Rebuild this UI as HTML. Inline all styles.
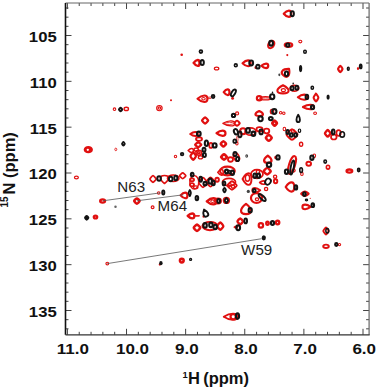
<!DOCTYPE html>
<html><head><meta charset="utf-8"><style>
html,body{margin:0;padding:0;background:#fff;}
body{width:378px;height:389px;overflow:hidden;}
svg{display:block;}
.tl{font-family:"Liberation Sans",sans-serif;font-weight:bold;font-size:13.8px;fill:#111;}
.ti{font-family:"Liberation Sans",sans-serif;font-weight:bold;font-size:16.5px;fill:#111;}
.an{font-family:"Liberation Sans",sans-serif;font-size:14.3px;fill:#222;}
</style></head><body>
<svg width="378" height="389" viewBox="0 0 378 389">
<rect x="0" y="0" width="378" height="389" fill="#fff"/>
<g stroke="#444" stroke-width="1">
<line x1="67.40" y1="334.8" x2="67.40" y2="328.8"/>
<line x1="67.40" y1="3" x2="67.40" y2="9"/>
<line x1="79.22" y1="334.8" x2="79.22" y2="331.8"/>
<line x1="79.22" y1="3" x2="79.22" y2="6"/>
<line x1="91.05" y1="334.8" x2="91.05" y2="331.8"/>
<line x1="91.05" y1="3" x2="91.05" y2="6"/>
<line x1="102.87" y1="334.8" x2="102.87" y2="331.8"/>
<line x1="102.87" y1="3" x2="102.87" y2="6"/>
<line x1="114.70" y1="334.8" x2="114.70" y2="331.8"/>
<line x1="114.70" y1="3" x2="114.70" y2="6"/>
<line x1="126.52" y1="334.8" x2="126.52" y2="328.8"/>
<line x1="126.52" y1="3" x2="126.52" y2="9"/>
<line x1="138.34" y1="334.8" x2="138.34" y2="331.8"/>
<line x1="138.34" y1="3" x2="138.34" y2="6"/>
<line x1="150.17" y1="334.8" x2="150.17" y2="331.8"/>
<line x1="150.17" y1="3" x2="150.17" y2="6"/>
<line x1="161.99" y1="334.8" x2="161.99" y2="331.8"/>
<line x1="161.99" y1="3" x2="161.99" y2="6"/>
<line x1="173.82" y1="334.8" x2="173.82" y2="331.8"/>
<line x1="173.82" y1="3" x2="173.82" y2="6"/>
<line x1="185.64" y1="334.8" x2="185.64" y2="328.8"/>
<line x1="185.64" y1="3" x2="185.64" y2="9"/>
<line x1="197.46" y1="334.8" x2="197.46" y2="331.8"/>
<line x1="197.46" y1="3" x2="197.46" y2="6"/>
<line x1="209.29" y1="334.8" x2="209.29" y2="331.8"/>
<line x1="209.29" y1="3" x2="209.29" y2="6"/>
<line x1="221.11" y1="334.8" x2="221.11" y2="331.8"/>
<line x1="221.11" y1="3" x2="221.11" y2="6"/>
<line x1="232.94" y1="334.8" x2="232.94" y2="331.8"/>
<line x1="232.94" y1="3" x2="232.94" y2="6"/>
<line x1="244.76" y1="334.8" x2="244.76" y2="328.8"/>
<line x1="244.76" y1="3" x2="244.76" y2="9"/>
<line x1="256.58" y1="334.8" x2="256.58" y2="331.8"/>
<line x1="256.58" y1="3" x2="256.58" y2="6"/>
<line x1="268.41" y1="334.8" x2="268.41" y2="331.8"/>
<line x1="268.41" y1="3" x2="268.41" y2="6"/>
<line x1="280.23" y1="334.8" x2="280.23" y2="331.8"/>
<line x1="280.23" y1="3" x2="280.23" y2="6"/>
<line x1="292.06" y1="334.8" x2="292.06" y2="331.8"/>
<line x1="292.06" y1="3" x2="292.06" y2="6"/>
<line x1="303.88" y1="334.8" x2="303.88" y2="328.8"/>
<line x1="303.88" y1="3" x2="303.88" y2="9"/>
<line x1="315.70" y1="334.8" x2="315.70" y2="331.8"/>
<line x1="315.70" y1="3" x2="315.70" y2="6"/>
<line x1="327.53" y1="334.8" x2="327.53" y2="331.8"/>
<line x1="327.53" y1="3" x2="327.53" y2="6"/>
<line x1="339.35" y1="334.8" x2="339.35" y2="331.8"/>
<line x1="339.35" y1="3" x2="339.35" y2="6"/>
<line x1="351.18" y1="334.8" x2="351.18" y2="331.8"/>
<line x1="351.18" y1="3" x2="351.18" y2="6"/>
<line x1="363.00" y1="334.8" x2="363.00" y2="328.8"/>
<line x1="363.00" y1="3" x2="363.00" y2="9"/>
<line x1="65.5" y1="8.00" x2="68.5" y2="8.00"/>
<line x1="369.1" y1="8.00" x2="366.1" y2="8.00"/>
<line x1="65.5" y1="17.17" x2="68.5" y2="17.17"/>
<line x1="369.1" y1="17.17" x2="366.1" y2="17.17"/>
<line x1="65.5" y1="26.33" x2="68.5" y2="26.33"/>
<line x1="369.1" y1="26.33" x2="366.1" y2="26.33"/>
<line x1="65.5" y1="35.50" x2="71.5" y2="35.50"/>
<line x1="369.1" y1="35.50" x2="363.1" y2="35.50"/>
<line x1="65.5" y1="44.67" x2="68.5" y2="44.67"/>
<line x1="369.1" y1="44.67" x2="366.1" y2="44.67"/>
<line x1="65.5" y1="53.83" x2="68.5" y2="53.83"/>
<line x1="369.1" y1="53.83" x2="366.1" y2="53.83"/>
<line x1="65.5" y1="63.00" x2="68.5" y2="63.00"/>
<line x1="369.1" y1="63.00" x2="366.1" y2="63.00"/>
<line x1="65.5" y1="72.17" x2="68.5" y2="72.17"/>
<line x1="369.1" y1="72.17" x2="366.1" y2="72.17"/>
<line x1="65.5" y1="81.34" x2="71.5" y2="81.34"/>
<line x1="369.1" y1="81.34" x2="363.1" y2="81.34"/>
<line x1="65.5" y1="90.50" x2="68.5" y2="90.50"/>
<line x1="369.1" y1="90.50" x2="366.1" y2="90.50"/>
<line x1="65.5" y1="99.67" x2="68.5" y2="99.67"/>
<line x1="369.1" y1="99.67" x2="366.1" y2="99.67"/>
<line x1="65.5" y1="108.84" x2="68.5" y2="108.84"/>
<line x1="369.1" y1="108.84" x2="366.1" y2="108.84"/>
<line x1="65.5" y1="118.00" x2="68.5" y2="118.00"/>
<line x1="369.1" y1="118.00" x2="366.1" y2="118.00"/>
<line x1="65.5" y1="127.17" x2="71.5" y2="127.17"/>
<line x1="369.1" y1="127.17" x2="363.1" y2="127.17"/>
<line x1="65.5" y1="136.34" x2="68.5" y2="136.34"/>
<line x1="369.1" y1="136.34" x2="366.1" y2="136.34"/>
<line x1="65.5" y1="145.50" x2="68.5" y2="145.50"/>
<line x1="369.1" y1="145.50" x2="366.1" y2="145.50"/>
<line x1="65.5" y1="154.67" x2="68.5" y2="154.67"/>
<line x1="369.1" y1="154.67" x2="366.1" y2="154.67"/>
<line x1="65.5" y1="163.84" x2="68.5" y2="163.84"/>
<line x1="369.1" y1="163.84" x2="366.1" y2="163.84"/>
<line x1="65.5" y1="173.00" x2="71.5" y2="173.00"/>
<line x1="369.1" y1="173.00" x2="363.1" y2="173.00"/>
<line x1="65.5" y1="182.17" x2="68.5" y2="182.17"/>
<line x1="369.1" y1="182.17" x2="366.1" y2="182.17"/>
<line x1="65.5" y1="191.34" x2="68.5" y2="191.34"/>
<line x1="369.1" y1="191.34" x2="366.1" y2="191.34"/>
<line x1="65.5" y1="200.51" x2="68.5" y2="200.51"/>
<line x1="369.1" y1="200.51" x2="366.1" y2="200.51"/>
<line x1="65.5" y1="209.67" x2="68.5" y2="209.67"/>
<line x1="369.1" y1="209.67" x2="366.1" y2="209.67"/>
<line x1="65.5" y1="218.84" x2="71.5" y2="218.84"/>
<line x1="369.1" y1="218.84" x2="363.1" y2="218.84"/>
<line x1="65.5" y1="228.01" x2="68.5" y2="228.01"/>
<line x1="369.1" y1="228.01" x2="366.1" y2="228.01"/>
<line x1="65.5" y1="237.17" x2="68.5" y2="237.17"/>
<line x1="369.1" y1="237.17" x2="366.1" y2="237.17"/>
<line x1="65.5" y1="246.34" x2="68.5" y2="246.34"/>
<line x1="369.1" y1="246.34" x2="366.1" y2="246.34"/>
<line x1="65.5" y1="255.51" x2="68.5" y2="255.51"/>
<line x1="369.1" y1="255.51" x2="366.1" y2="255.51"/>
<line x1="65.5" y1="264.67" x2="71.5" y2="264.67"/>
<line x1="369.1" y1="264.67" x2="363.1" y2="264.67"/>
<line x1="65.5" y1="273.84" x2="68.5" y2="273.84"/>
<line x1="369.1" y1="273.84" x2="366.1" y2="273.84"/>
<line x1="65.5" y1="283.01" x2="68.5" y2="283.01"/>
<line x1="369.1" y1="283.01" x2="366.1" y2="283.01"/>
<line x1="65.5" y1="292.18" x2="68.5" y2="292.18"/>
<line x1="369.1" y1="292.18" x2="366.1" y2="292.18"/>
<line x1="65.5" y1="301.34" x2="68.5" y2="301.34"/>
<line x1="369.1" y1="301.34" x2="366.1" y2="301.34"/>
<line x1="65.5" y1="310.51" x2="71.5" y2="310.51"/>
<line x1="369.1" y1="310.51" x2="363.1" y2="310.51"/>
<line x1="65.5" y1="319.68" x2="68.5" y2="319.68"/>
<line x1="369.1" y1="319.68" x2="366.1" y2="319.68"/>
<line x1="65.5" y1="328.84" x2="68.5" y2="328.84"/>
<line x1="369.1" y1="328.84" x2="366.1" y2="328.84"/>
</g>
<g>
<path d="M283.76,13.70 C286.19,10.78 287.69,10.53 288.81,10.53 C290.68,10.53 291.24,11.96 291.24,13.70 C291.24,15.44 290.68,16.87 288.81,16.87 C287.69,16.87 286.19,16.62 283.76,13.70 Z" fill="none" stroke="#e01010" stroke-width="2.21" stroke-linejoin="round"/>
<ellipse cx="271.2" cy="44.4" rx="2.72" ry="3.98" fill="none" stroke="#e01010" stroke-width="2.08" transform="rotate(32 271.2 44.4)"/>
<ellipse cx="288.5" cy="44.9" rx="3.74" ry="1.92" fill="none" stroke="#e01010" stroke-width="2.21"/>
<ellipse cx="300.3" cy="41.6" rx="1.56" ry="1.28" fill="none" stroke="#e01010" stroke-width="1.0943999999999998"/>
<ellipse cx="287.3" cy="55.1" rx="1.05" ry="1.05" fill="#e01010"/>
<ellipse cx="181.7" cy="54.8" rx="1.30" ry="1.30" fill="#e01010"/>
<path d="M193.62,62.90 C195.56,60.16 196.75,59.92 197.64,59.92 C199.14,59.92 199.58,61.26 199.58,62.90 C199.58,64.54 199.14,65.88 197.64,65.88 C196.75,65.88 195.56,65.64 193.62,62.90 Z" fill="none" stroke="#e01010" stroke-width="2.4699999999999998" stroke-linejoin="round"/>
<ellipse cx="216.6" cy="68.5" rx="2.22" ry="1.48" fill="none" stroke="#e01010" stroke-width="1.2653999999999999"/>
<path d="M242.51,63.30 C245.17,60.59 246.80,60.35 248.03,60.35 C250.08,60.35 250.69,61.68 250.69,63.30 C250.69,64.92 250.08,66.25 248.03,66.25 C246.80,66.25 245.17,66.01 242.51,63.30 Z" fill="none" stroke="#e01010" stroke-width="2.08" stroke-linejoin="round"/>
<ellipse cx="255.5" cy="67.5" rx="1.00" ry="1.50" fill="#e01010"/>
<path d="M261.35,65.80 C263.59,63.72 264.97,63.54 266.01,63.54 C267.74,63.54 268.25,64.56 268.25,65.80 C268.25,67.04 267.74,68.06 266.01,68.06 C264.97,68.06 263.59,67.88 261.35,65.80 Z" fill="none" stroke="#e01010" stroke-width="2.21" stroke-linejoin="round"/>
<path d="M286.30,67.88 C282.75,70.69 282.44,72.42 282.44,73.71 C282.44,75.87 284.18,76.52 286.30,76.52 C288.42,76.52 290.16,75.87 290.16,73.71 C290.16,72.42 289.85,70.69 286.30,67.88 Z" fill="none" stroke="#e01010" stroke-width="2.08" stroke-linejoin="round" transform="rotate(40 286.3 72.2)"/>
<path d="M338.10,69.00 C338.10,68.38 339.86,65.89 340.30,65.89 C340.74,65.89 342.50,68.38 342.50,69.00 C342.50,69.62 340.74,72.11 340.30,72.11 C339.86,72.11 338.10,69.62 338.10,69.00Z" fill="none" stroke="#e01010" stroke-width="2.21"/>
<ellipse cx="358" cy="68.5" rx="1.05" ry="1.60" fill="#e01010"/>
<path d="M223.72,92.20 C225.59,89.60 226.74,89.37 227.61,89.37 C229.05,89.37 229.48,90.64 229.48,92.20 C229.48,93.76 229.05,95.03 227.61,95.03 C226.74,95.03 225.59,94.80 223.72,92.20 Z" fill="none" stroke="#e01010" stroke-width="2.21" stroke-linejoin="round"/>
<ellipse cx="232.6" cy="98.3" rx="1.40" ry="1.50" fill="#e01010"/>
<path d="M283.00,85.21 C277.82,87.87 277.37,89.50 277.37,90.73 C277.37,92.78 279.90,93.39 283.00,93.39 C286.10,93.39 288.63,92.78 288.63,90.73 C288.63,89.50 288.18,87.87 283.00,85.21 Z" fill="none" stroke="#e01010" stroke-width="2.08" stroke-linejoin="round"/>
<ellipse cx="283.4" cy="90.2" rx="2.05" ry="1.48" fill="none" stroke="#e01010" stroke-width="1.2653999999999999"/>
<ellipse cx="294.4" cy="88.3" rx="4.29" ry="2.86" fill="none" stroke="#e01010" stroke-width="1.6900000000000002"/>
<path d="M197.50,98.80 C200.75,95.82 202.75,95.56 204.25,95.56 C206.75,95.56 207.50,97.02 207.50,98.80 C207.50,100.58 206.75,102.03 204.25,102.03 C202.75,102.03 200.75,101.78 197.50,98.80 Z" fill="none" stroke="#e01010" stroke-width="2.08" stroke-linejoin="round"/>
<ellipse cx="203.5" cy="98.8" rx="1.77" ry="1.20" fill="none" stroke="#e01010" stroke-width="1.026"/>
<line x1="206.7" y1="97.4" x2="211.2" y2="97.0" stroke="#e01010" stroke-width="0.8"/>
<line x1="206.7" y1="98.8" x2="211.2" y2="98.4" stroke="#e01010" stroke-width="0.8"/>
<ellipse cx="259.2" cy="98.2" rx="2.31" ry="2.20" fill="none" stroke="#e01010" stroke-width="2.21"/>
<ellipse cx="265.5" cy="98.2" rx="5.62" ry="1.63" fill="none" stroke="#e01010" stroke-width="1.3"/>
<ellipse cx="265.5" cy="98.2" rx="4.82" ry="0.72" fill="none" stroke="#e01010" stroke-width="0.6156"/>
<path d="M297.84,97.20 C300.87,94.85 302.73,94.65 304.13,94.65 C306.46,94.65 307.16,95.80 307.16,97.20 C307.16,98.60 306.46,99.75 304.13,99.75 C302.73,99.75 300.87,99.55 297.84,97.20 Z" fill="none" stroke="#e01010" stroke-width="2.08" stroke-linejoin="round"/>
<path d="M313.62,97.70 C313.62,96.94 315.52,93.90 316.00,93.90 C316.48,93.90 318.38,96.94 318.38,97.70 C318.38,98.46 316.48,101.50 316.00,101.50 C315.52,101.50 313.62,98.46 313.62,97.70Z" fill="none" stroke="#e01010" stroke-width="2.08"/>
<ellipse cx="315.8" cy="93.2" rx="0.70" ry="0.70" fill="#e01010"/>
<ellipse cx="114.5" cy="109.2" rx="1.28" ry="1.28" fill="none" stroke="#e01010" stroke-width="1.0943999999999998"/>
<ellipse cx="126.3" cy="108.9" rx="2.17" ry="1.60" fill="none" stroke="#e01010" stroke-width="1.3679999999999999"/>
<ellipse cx="159.4" cy="108.1" rx="2.72" ry="2.61" fill="none" stroke="#e01010" stroke-width="1.1700000000000002"/>
<ellipse cx="159.4" cy="108.1" rx="1.23" ry="1.17" fill="none" stroke="#e01010" stroke-width="1.1700000000000002"/>
<ellipse cx="171" cy="100.2" rx="1.00" ry="1.00" fill="#e01010"/>
<path d="M302.93,107.00 C306.55,104.86 308.78,104.68 310.45,104.68 C313.24,104.68 314.07,105.72 314.07,107.00 C314.07,108.28 313.24,109.32 310.45,109.32 C308.78,109.32 306.55,109.14 302.93,107.00 Z" fill="none" stroke="#e01010" stroke-width="2.08" stroke-linejoin="round"/>
<ellipse cx="315.1" cy="113.3" rx="1.42" ry="1.30" fill="none" stroke="#e01010" stroke-width="1.04"/>
<ellipse cx="237.1" cy="113.4" rx="1.48" ry="1.48" fill="none" stroke="#e01010" stroke-width="1.2653999999999999"/>
<path d="M202.05,120.50 C202.05,119.89 204.49,117.45 205.10,117.45 C205.71,117.45 208.15,119.89 208.15,120.50 C208.15,121.11 205.71,123.55 205.10,123.55 C204.49,123.55 202.05,121.11 202.05,120.50Z" fill="none" stroke="#e01010" stroke-width="2.3400000000000003"/>
<path d="M259.20,111.01 C255.76,112.63 255.46,113.62 255.46,114.37 C255.46,115.61 257.14,115.99 259.20,115.99 C261.26,115.99 262.94,115.61 262.94,114.37 C262.94,113.62 262.64,112.63 259.20,111.01 Z" fill="none" stroke="#e01010" stroke-width="2.21" stroke-linejoin="round"/>
<ellipse cx="272" cy="111.5" rx="1.60" ry="2.17" fill="none" stroke="#e01010" stroke-width="1.3679999999999999"/>
<ellipse cx="280.7" cy="112.8" rx="1.25" ry="1.25" fill="none" stroke="#e01010" stroke-width="1.04"/>
<ellipse cx="283.8" cy="113.3" rx="1.25" ry="1.25" fill="none" stroke="#e01010" stroke-width="1.04"/>
<ellipse cx="298.5" cy="115.6" rx="0.75" ry="0.75" fill="#e01010"/>
<path d="M272.32,123.20 C272.32,122.70 274.14,120.69 274.60,120.69 C275.06,120.69 276.88,122.70 276.88,123.20 C276.88,123.70 275.06,125.71 274.60,125.71 C274.14,125.71 272.32,123.70 272.32,123.20Z" fill="none" stroke="#e01010" stroke-width="2.7300000000000004"/>
<path d="M222.90,123.40 C226.73,121.06 229.10,120.86 230.87,120.86 C233.82,120.86 234.71,122.00 234.71,123.40 C234.71,124.80 233.82,125.94 230.87,125.94 C229.10,125.94 226.73,125.74 222.90,123.40 Z" fill="none" stroke="#e01010" stroke-width="1.3" stroke-linejoin="round"/>
<ellipse cx="229.5" cy="123.4" rx="3.88" ry="1.09" fill="none" stroke="#e01010" stroke-width="0.78"/>
<path d="M234.21,123.20 C234.21,122.69 236.44,120.64 237.00,120.64 C237.56,120.64 239.79,122.69 239.79,123.20 C239.79,123.71 237.56,125.76 237.00,125.76 C236.44,125.76 234.21,123.71 234.21,123.20Z" fill="none" stroke="#e01010" stroke-width="1.9500000000000002"/>
<path d="M216.52,133.20 C219.43,130.76 221.22,130.54 222.57,130.54 C224.81,130.54 225.48,131.74 225.48,133.20 C225.48,134.66 224.81,135.86 222.57,135.86 C221.22,135.86 219.43,135.64 216.52,133.20 Z" fill="none" stroke="#e01010" stroke-width="2.21" stroke-linejoin="round"/>
<path d="M190.25,134.00 C192.69,132.18 194.19,132.02 195.31,132.02 C197.19,132.02 197.75,132.91 197.75,134.00 C197.75,135.09 197.19,135.98 195.31,135.98 C194.19,135.98 192.69,135.82 190.25,134.00 Z" fill="none" stroke="#e01010" stroke-width="2.08" stroke-linejoin="round"/>
<ellipse cx="199" cy="139.1" rx="3.02" ry="1.83" fill="none" stroke="#e01010" stroke-width="1.8199999999999998"/>
<path d="M195.15,144.70 C195.15,144.22 197.59,142.28 198.20,142.28 C198.81,142.28 201.25,144.22 201.25,144.70 C201.25,145.18 198.81,147.12 198.20,147.12 C197.59,147.12 195.15,145.18 195.15,144.70Z" fill="none" stroke="#e01010" stroke-width="2.3400000000000003"/>
<ellipse cx="210.9" cy="145.4" rx="1.66" ry="2.51" fill="none" stroke="#e01010" stroke-width="1.8199999999999998"/>
<path d="M220.70,143.90 C220.70,143.36 222.86,141.20 223.40,141.20 C223.94,141.20 226.10,143.36 226.10,143.90 C226.10,144.44 223.94,146.60 223.40,146.60 C222.86,146.60 220.70,144.44 220.70,143.90Z" fill="none" stroke="#e01010" stroke-width="2.4699999999999998"/>
<ellipse cx="243" cy="131.2" rx="2.89" ry="2.89" fill="none" stroke="#e01010" stroke-width="2.08"/>
<ellipse cx="237.3" cy="139" rx="0.80" ry="3.08" fill="none" stroke="#e01010" stroke-width="0.6839999999999999"/>
<ellipse cx="236.9" cy="143.6" rx="1.20" ry="1.48" fill="none" stroke="#e01010" stroke-width="1.026"/>
<ellipse cx="250.5" cy="131.5" rx="5.42" ry="3.71" fill="none" stroke="#e01010" stroke-width="1.6900000000000002"/>
<ellipse cx="259.5" cy="129.3" rx="3.08" ry="2.17" fill="none" stroke="#e01010" stroke-width="1.8199999999999998"/>
<ellipse cx="266.6" cy="131.1" rx="2.68" ry="2.40" fill="none" stroke="#e01010" stroke-width="1.8199999999999998"/>
<path d="M265.82,137.80 C265.82,137.19 268.20,134.76 268.80,134.76 C269.40,134.76 271.78,137.19 271.78,137.80 C271.78,138.41 269.40,140.84 268.80,140.84 C268.20,140.84 265.82,138.41 265.82,137.80Z" fill="none" stroke="#e01010" stroke-width="2.4699999999999998"/>
<ellipse cx="284.4" cy="129" rx="1.30" ry="1.70" fill="none" stroke="#e01010" stroke-width="1.04"/>
<path d="M286.42,134.50 C286.42,133.44 290.88,129.21 292.00,129.21 C293.12,129.21 297.58,133.44 297.58,134.50 C297.58,135.56 293.12,139.79 292.00,139.79 C290.88,139.79 286.42,135.56 286.42,134.50Z" fill="none" stroke="#e01010" stroke-width="1.9500000000000002"/>
<ellipse cx="293" cy="130.9" rx="1.68" ry="1.40" fill="none" stroke="#e01010" stroke-width="1.1969999999999998"/>
<ellipse cx="301.1" cy="144.3" rx="1.60" ry="2.05" fill="none" stroke="#e01010" stroke-width="1.3679999999999999"/>
<path d="M324.94,133.30 C324.94,132.63 327.15,129.97 327.70,129.97 C328.25,129.97 330.46,132.63 330.46,133.30 C330.46,133.97 328.25,136.63 327.70,136.63 C327.15,136.63 324.94,133.97 324.94,133.30Z" fill="none" stroke="#e01010" stroke-width="2.3400000000000003"/>
<ellipse cx="333.8" cy="137" rx="2.80" ry="2.52" fill="none" stroke="#e01010" stroke-width="1.6900000000000002"/>
<ellipse cx="338.6" cy="133" rx="2.18" ry="2.80" fill="none" stroke="#e01010" stroke-width="1.6900000000000002"/>
<ellipse cx="88.3" cy="149.7" rx="4.60" ry="3.65" fill="#e01010"/>
<ellipse cx="115.8" cy="149.4" rx="1.00" ry="1.28" fill="none" stroke="#e01010" stroke-width="0.8549999999999999"/>
<ellipse cx="175.5" cy="156.5" rx="1.20" ry="1.20" fill="none" stroke="#e01010" stroke-width="1.026"/>
<path d="M190.43,156.10 C190.43,155.36 192.65,152.42 193.20,152.42 C193.75,152.42 195.97,155.36 195.97,156.10 C195.97,156.84 193.75,159.78 193.20,159.78 C192.65,159.78 190.43,156.84 190.43,156.10Z" fill="none" stroke="#e01010" stroke-width="2.21"/>
<ellipse cx="196.2" cy="149.6" rx="2.17" ry="1.60" fill="none" stroke="#e01010" stroke-width="1.3679999999999999"/>
<ellipse cx="200.5" cy="157.3" rx="2.17" ry="1.60" fill="none" stroke="#e01010" stroke-width="1.3679999999999999"/>
<path d="M188.16,150.50 C189.88,148.60 190.93,148.43 191.72,148.43 C193.04,148.43 193.44,149.36 193.44,150.50 C193.44,151.64 193.04,152.57 191.72,152.57 C190.93,152.57 189.88,152.40 188.16,150.50 Z" fill="none" stroke="#e01010" stroke-width="1.56" stroke-linejoin="round"/>
<ellipse cx="198.8" cy="152.7" rx="2.87" ry="2.53" fill="none" stroke="#e01010" stroke-width="1.56"/>
<ellipse cx="198.8" cy="152.7" rx="1.23" ry="1.04" fill="none" stroke="#e01010" stroke-width="1.56"/>
<path d="M221.08,157.00 C221.08,156.46 223.42,154.31 224.00,154.31 C224.58,154.31 226.92,156.46 226.92,157.00 C226.92,157.54 224.58,159.69 224.00,159.69 C223.42,159.69 221.08,157.54 221.08,157.00Z" fill="none" stroke="#e01010" stroke-width="2.6"/>
<ellipse cx="230.5" cy="159.5" rx="2.51" ry="2.22" fill="none" stroke="#e01010" stroke-width="1.8199999999999998"/>
<ellipse cx="236.4" cy="157.0" rx="4.35" ry="2.64" fill="none" stroke="#e01010" stroke-width="1.56" transform="rotate(66 236.4 157.0)"/>
<path d="M267.80,155.62 C264.42,158.01 264.12,159.48 264.12,160.59 C264.12,162.42 265.78,162.98 267.80,162.98 C269.82,162.98 271.48,162.42 271.48,160.59 C271.48,159.48 271.18,158.01 267.80,155.62 Z" fill="none" stroke="#e01010" stroke-width="2.3400000000000003" stroke-linejoin="round"/>
<ellipse cx="275.5" cy="157.4" rx="1.25" ry="1.75" fill="#e01010"/>
<path d="M263.65,171.20 C263.65,170.53 266.49,167.88 267.20,167.88 C267.91,167.88 270.75,170.53 270.75,171.20 C270.75,171.86 267.91,174.52 267.20,174.52 C266.49,174.52 263.65,171.86 263.65,171.20Z" fill="none" stroke="#e01010" stroke-width="2.4699999999999998"/>
<ellipse cx="292" cy="165" rx="9.29" ry="3.01" fill="none" stroke="#e01010" stroke-width="1.9500000000000002" transform="rotate(-73 292 165)"/>
<ellipse cx="293.5" cy="170.6" rx="1.65" ry="1.48" fill="none" stroke="#e01010" stroke-width="1.2653999999999999"/>
<ellipse cx="301.9" cy="173.9" rx="1.28" ry="1.56" fill="none" stroke="#e01010" stroke-width="1.0943999999999998"/>
<ellipse cx="314.3" cy="155.8" rx="1.28" ry="1.85" fill="none" stroke="#e01010" stroke-width="1.0943999999999998"/>
<ellipse cx="308.7" cy="163.7" rx="2.33" ry="1.99" fill="none" stroke="#e01010" stroke-width="1.9500000000000002"/>
<ellipse cx="328" cy="167.2" rx="1.64" ry="1.92" fill="none" stroke="#e01010" stroke-width="1.625"/>
<ellipse cx="349.4" cy="171.1" rx="2.82" ry="1.57" fill="none" stroke="#e01010" stroke-width="2.3400000000000003"/>
<ellipse cx="76.4" cy="177.5" rx="1.97" ry="1.40" fill="none" stroke="#e01010" stroke-width="1.1969999999999998"/>
<path d="M149.91,179.00 C149.91,178.33 152.38,175.63 153.00,175.63 C153.62,175.63 156.09,178.33 156.09,179.00 C156.09,179.67 153.62,182.37 153.00,182.37 C152.38,182.37 149.91,179.67 149.91,179.00Z" fill="none" stroke="#e01010" stroke-width="1.6900000000000002"/>
<path d="M164.50,183.50 C160.82,180.90 160.50,179.30 160.50,178.10 C160.50,176.10 162.30,175.50 164.50,175.50 C166.70,175.50 168.50,176.10 168.50,178.10 C168.50,179.30 168.18,180.90 164.50,183.50 Z" fill="none" stroke="#e01010" stroke-width="1.6900000000000002" stroke-linejoin="round"/>
<ellipse cx="173.2" cy="178.3" rx="5.77" ry="3.21" fill="none" stroke="#e01010" stroke-width="1.56"/>
<path d="M179.61,175.80 C179.61,175.22 182.08,172.88 182.70,172.88 C183.32,172.88 185.79,175.22 185.79,175.80 C185.79,176.38 183.32,178.72 182.70,178.72 C182.08,178.72 179.61,176.38 179.61,175.80Z" fill="none" stroke="#e01010" stroke-width="1.6900000000000002"/>
<ellipse cx="194.3" cy="182.3" rx="4.42" ry="6.69" fill="none" stroke="#e01010" stroke-width="1.4300000000000002"/>
<ellipse cx="192" cy="179.8" rx="2.05" ry="1.48" fill="none" stroke="#e01010" stroke-width="1.8199999999999998"/>
<ellipse cx="192" cy="184.8" rx="2.05" ry="1.60" fill="none" stroke="#e01010" stroke-width="1.8199999999999998"/>
<ellipse cx="195.7" cy="187.2" rx="2.23" ry="1.44" fill="none" stroke="#e01010" stroke-width="1.2312"/>
<path d="M198.72,182.50 C198.72,181.53 202.14,177.65 203.00,177.65 C203.86,177.65 207.28,181.53 207.28,182.50 C207.28,183.47 203.86,187.35 203.00,187.35 C202.14,187.35 198.72,183.47 198.72,182.50Z" fill="none" stroke="#e01010" stroke-width="1.6900000000000002"/>
<path d="M206.22,182.00 C206.22,181.09 209.64,177.43 210.50,177.43 C211.36,177.43 214.78,181.09 214.78,182.00 C214.78,182.91 211.36,186.57 210.50,186.57 C209.64,186.57 206.22,182.91 206.22,182.00Z" fill="none" stroke="#e01010" stroke-width="1.6900000000000002"/>
<ellipse cx="217.1" cy="179.7" rx="1.76" ry="2.05" fill="none" stroke="#e01010" stroke-width="1.9500000000000002"/>
<path d="M217.75,172.40 C219.54,169.81 220.64,169.59 221.46,169.59 C222.84,169.59 223.25,170.85 223.25,172.40 C223.25,173.95 222.84,175.21 221.46,175.21 C220.64,175.21 219.54,174.99 217.75,172.40 Z" fill="none" stroke="#e01010" stroke-width="1.56" stroke-linejoin="round"/>
<ellipse cx="227.4" cy="171" rx="7.40" ry="4.37" fill="none" stroke="#e01010" stroke-width="2.08"/>
<ellipse cx="229" cy="182" rx="6.56" ry="3.71" fill="none" stroke="#e01010" stroke-width="1.6900000000000002"/>
<ellipse cx="229.8" cy="185" rx="1.68" ry="1.40" fill="none" stroke="#e01010" stroke-width="1.1969999999999998"/>
<ellipse cx="233" cy="186.6" rx="1.60" ry="1.60" fill="none" stroke="#e01010" stroke-width="1.3679999999999999"/>
<path d="M227.21,185.50 C227.21,184.66 231.04,181.28 232.00,181.28 C232.96,181.28 236.79,184.66 236.79,185.50 C236.79,186.34 232.96,189.72 232.00,189.72 C231.04,189.72 227.21,186.34 227.21,185.50Z" fill="none" stroke="#e01010" stroke-width="1.8199999999999998"/>
<path d="M242.56,179.00 C245.45,173.60 247.22,173.13 248.55,173.13 C250.77,173.13 251.44,175.77 251.44,179.00 C251.44,182.23 250.77,184.87 248.55,184.87 C247.22,184.87 245.45,184.40 242.56,179.00 Z" fill="none" stroke="#e01010" stroke-width="1.9500000000000002" stroke-linejoin="round"/>
<ellipse cx="247.5" cy="178" rx="2.13" ry="3.27" fill="none" stroke="#e01010" stroke-width="1.4300000000000002"/>
<ellipse cx="257" cy="174" rx="6.00" ry="4.29" fill="none" stroke="#e01010" stroke-width="1.6900000000000002"/>
<ellipse cx="258" cy="172" rx="1.60" ry="2.17" fill="none" stroke="#e01010" stroke-width="1.3679999999999999"/>
<path d="M259.64,182.50 C261.50,180.92 262.64,180.78 263.50,180.78 C264.93,180.78 265.36,181.55 265.36,182.50 C265.36,183.45 264.93,184.22 263.50,184.22 C262.64,184.22 261.50,184.08 259.64,182.50 Z" fill="none" stroke="#e01010" stroke-width="1.6900000000000002" stroke-linejoin="round"/>
<ellipse cx="275.1" cy="176.7" rx="1.60" ry="1.60" fill="none" stroke="#e01010" stroke-width="1.3679999999999999"/>
<ellipse cx="275.6" cy="181.2" rx="1.70" ry="2.05" fill="none" stroke="#e01010" stroke-width="1.9500000000000002"/>
<ellipse cx="266.1" cy="189" rx="1.60" ry="1.60" fill="none" stroke="#e01010" stroke-width="1.3679999999999999"/>
<path d="M260.16,190.30 C257.65,188.22 256.11,188.03 254.95,188.03 C253.02,188.03 252.44,189.05 252.44,190.30 C252.44,191.55 253.02,192.57 254.95,192.57 C256.11,192.57 257.65,192.38 260.16,190.30 Z" fill="none" stroke="#e01010" stroke-width="2.08" stroke-linejoin="round"/>
<ellipse cx="256.5" cy="198" rx="5.56" ry="4.94" fill="none" stroke="#e01010" stroke-width="2.21"/>
<ellipse cx="257" cy="199.3" rx="1.68" ry="1.40" fill="none" stroke="#e01010" stroke-width="1.1969999999999998"/>
<path d="M285.69,187.00 C288.49,182.77 290.22,182.41 291.51,182.41 C293.66,182.41 294.31,184.47 294.31,187.00 C294.31,189.53 293.66,191.59 291.51,191.59 C290.22,191.59 288.49,191.23 285.69,187.00 Z" fill="none" stroke="#e01010" stroke-width="2.21" stroke-linejoin="round"/>
<path d="M301.16,193.80 C301.16,193.36 304.15,191.60 304.90,191.60 C305.65,191.60 308.64,193.36 308.64,193.80 C308.64,194.24 305.65,196.00 304.90,196.00 C304.15,196.00 301.16,194.24 301.16,193.80Z" fill="none" stroke="#e01010" stroke-width="2.21"/>
<ellipse cx="310.2" cy="198.3" rx="0.60" ry="0.60" fill="#e01010"/>
<path d="M310.59,206.90 C307.93,204.82 306.30,204.63 305.07,204.63 C303.02,204.63 302.41,205.65 302.41,206.90 C302.41,208.15 303.02,209.17 305.07,209.17 C306.30,209.17 307.93,208.98 310.59,206.90 Z" fill="none" stroke="#e01010" stroke-width="2.08" stroke-linejoin="round"/>
<path d="M180.54,195.40 C182.79,192.80 184.17,192.57 185.21,192.57 C186.94,192.57 187.46,193.84 187.46,195.40 C187.46,196.96 186.94,198.23 185.21,198.23 C184.17,198.23 182.79,198.00 180.54,195.40 Z" fill="none" stroke="#e01010" stroke-width="2.21" stroke-linejoin="round"/>
<path d="M206.78,201.30 C209.91,198.50 211.84,198.25 213.29,198.25 C215.69,198.25 216.41,199.62 216.41,201.30 C216.41,202.98 215.69,204.35 213.29,204.35 C211.84,204.35 209.91,204.10 206.78,201.30 Z" fill="none" stroke="#e01010" stroke-width="2.3400000000000003" stroke-linejoin="round"/>
<ellipse cx="212.5" cy="201.3" rx="1.77" ry="1.20" fill="none" stroke="#e01010" stroke-width="1.026"/>
<ellipse cx="218" cy="201" rx="3.21" ry="2.64" fill="none" stroke="#e01010" stroke-width="1.56"/>
<ellipse cx="226.4" cy="200.4" rx="2.92" ry="2.92" fill="none" stroke="#e01010" stroke-width="1.56"/>
<path d="M246.00,203.84 C241.46,207.19 241.06,209.26 241.06,210.81 C241.06,213.39 243.28,214.16 246.00,214.16 C248.72,214.16 250.94,213.39 250.94,210.81 C250.94,209.26 250.54,207.19 246.00,203.84 Z" fill="none" stroke="#e01010" stroke-width="2.21" stroke-linejoin="round"/>
<ellipse cx="203.5" cy="216.4" rx="1.00" ry="1.25" fill="#e01010"/>
<path d="M187.67,215.90 C189.83,213.67 191.17,213.48 192.17,213.48 C193.83,213.48 194.33,214.57 194.33,215.90 C194.33,217.23 193.83,218.32 192.17,218.32 C191.17,218.32 189.83,218.13 187.67,215.90 Z" fill="none" stroke="#e01010" stroke-width="2.3400000000000003" stroke-linejoin="round"/>
<line x1="195" y1="215.5" x2="199.8" y2="215.5" stroke="#e01010" stroke-width="0.9"/>
<line x1="195" y1="216.5" x2="199.5" y2="216.5" stroke="#e01010" stroke-width="0.7"/>
<path d="M193.73,227.80 C193.73,227.15 196.35,224.53 197.00,224.53 C197.65,224.53 200.27,227.15 200.27,227.80 C200.27,228.45 197.65,231.07 197.00,231.07 C196.35,231.07 193.73,228.45 193.73,227.80Z" fill="none" stroke="#e01010" stroke-width="2.4699999999999998"/>
<ellipse cx="210" cy="226" rx="7.57" ry="4.15" fill="none" stroke="#e01010" stroke-width="1.9500000000000002"/>
<path d="M217.25,226.20 C217.25,225.46 219.69,222.52 220.30,222.52 C220.91,222.52 223.35,225.46 223.35,226.20 C223.35,226.94 220.91,229.88 220.30,229.88 C219.69,229.88 217.25,226.94 217.25,226.20Z" fill="none" stroke="#e01010" stroke-width="2.3400000000000003"/>
<path d="M237.44,221.40 C237.44,220.79 239.65,218.35 240.20,218.35 C240.75,218.35 242.96,220.79 242.96,221.40 C242.96,222.01 240.75,224.45 240.20,224.45 C239.65,224.45 237.44,222.01 237.44,221.40Z" fill="none" stroke="#e01010" stroke-width="2.3400000000000003"/>
<path d="M234.30,227.20 C235.28,226.34 235.88,226.27 236.33,226.27 C237.08,226.27 237.30,226.69 237.30,227.20 C237.30,227.71 237.08,228.13 236.33,228.13 C235.88,228.13 235.28,228.06 234.30,227.20 Z" fill="none" stroke="#e01010" stroke-width="1.56" stroke-linejoin="round"/>
<ellipse cx="260.9" cy="225.4" rx="2.20" ry="2.20" fill="none" stroke="#e01010" stroke-width="2.21"/>
<ellipse cx="267.5" cy="223.3" rx="1.29" ry="1.63" fill="none" stroke="#e01010" stroke-width="2.21"/>
<ellipse cx="277.6" cy="222.5" rx="1.68" ry="1.85" fill="none" stroke="#e01010" stroke-width="2.3400000000000003"/>
<ellipse cx="102.6" cy="201" rx="2.42" ry="1.57" fill="none" stroke="#e01010" stroke-width="2.3400000000000003"/>
<ellipse cx="95.5" cy="217" rx="1.74" ry="1.46" fill="none" stroke="#e01010" stroke-width="2.21"/>
<ellipse cx="158.7" cy="193" rx="1.28" ry="1.28" fill="none" stroke="#e01010" stroke-width="1.0943999999999998"/>
<path d="M134.15,201.00 C134.15,200.47 136.35,198.36 136.90,198.36 C137.45,198.36 139.66,200.47 139.66,201.00 C139.66,201.53 137.45,203.64 136.90,203.64 C136.35,203.64 134.15,201.53 134.15,201.00Z" fill="none" stroke="#e01010" stroke-width="2.4699999999999998"/>
<ellipse cx="152.6" cy="207.3" rx="1.40" ry="1.40" fill="none" stroke="#e01010" stroke-width="1.1969999999999998"/>
<path d="M323.33,231.00 C323.33,230.31 325.47,227.53 326.00,227.53 C326.53,227.53 328.67,230.31 328.67,231.00 C328.67,231.69 326.53,234.47 326.00,234.47 C325.47,234.47 323.33,231.69 323.33,231.00Z" fill="none" stroke="#e01010" stroke-width="1.9500000000000002"/>
<ellipse cx="326" cy="246.3" rx="2.79" ry="1.70" fill="none" stroke="#e01010" stroke-width="1.9500000000000002"/>
<ellipse cx="339.5" cy="244.6" rx="1.20" ry="1.20" fill="none" stroke="#e01010" stroke-width="1.026"/>
<ellipse cx="159.8" cy="264.6" rx="1.10" ry="1.10" fill="#e01010"/>
<ellipse cx="181.8" cy="260.6" rx="1.83" ry="1.83" fill="none" stroke="#e01010" stroke-width="2.6"/>
<ellipse cx="107.3" cy="263.6" rx="1.36" ry="1.36" fill="none" stroke="#e01010" stroke-width="1.1627999999999998"/>
<path d="M223.69,316.70 C228.18,313.81 230.95,313.56 233.02,313.56 C236.47,313.56 237.51,314.97 237.51,316.70 C237.51,318.43 236.47,319.84 233.02,319.84 C230.95,319.84 228.18,319.59 223.69,316.70 Z" fill="none" stroke="#e01010" stroke-width="1.6900000000000002" stroke-linejoin="round"/>
<ellipse cx="233.2" cy="316.7" rx="2.66" ry="2.54" fill="none" stroke="#e01010" stroke-width="2.21"/>
<ellipse cx="224.3" cy="316.9" rx="0.65" ry="0.65" fill="#e01010"/>
<ellipse cx="292.3" cy="13.8" rx="1.59" ry="2.47" fill="none" stroke="#141414" stroke-width="2.0"/>
<ellipse cx="271.1" cy="43.2" rx="1.86" ry="2.42" fill="none" stroke="#141414" stroke-width="2.1"/>
<ellipse cx="287.8" cy="45.1" rx="1.64" ry="1.64" fill="none" stroke="#141414" stroke-width="2.0"/>
<ellipse cx="305" cy="51.7" rx="1.29" ry="1.56" fill="none" stroke="#141414" stroke-width="1.5"/>
<ellipse cx="200.9" cy="51.6" rx="1.41" ry="1.41" fill="none" stroke="#141414" stroke-width="1.8"/>
<ellipse cx="202.2" cy="62.4" rx="1.64" ry="2.52" fill="none" stroke="#141414" stroke-width="2.0"/>
<ellipse cx="235.8" cy="65.3" rx="1.40" ry="1.40" fill="none" stroke="#141414" stroke-width="1.6"/>
<ellipse cx="251.2" cy="63" rx="1.92" ry="2.47" fill="none" stroke="#141414" stroke-width="2.0"/>
<ellipse cx="257.9" cy="66.7" rx="1.64" ry="1.92" fill="none" stroke="#141414" stroke-width="2.0"/>
<ellipse cx="286.5" cy="73.8" rx="1.64" ry="2.19" fill="none" stroke="#141414" stroke-width="2.0"/>
<ellipse cx="279.3" cy="74.8" rx="1.00" ry="1.35" fill="#444"/>
<ellipse cx="300.6" cy="68.6" rx="1.60" ry="3.55" fill="#141414"/>
<ellipse cx="348.3" cy="68.8" rx="0.90" ry="1.56" fill="none" stroke="#141414" stroke-width="1.5"/>
<ellipse cx="360.7" cy="66.4" rx="0.97" ry="2.02" fill="none" stroke="#141414" stroke-width="1.8"/>
<ellipse cx="233.4" cy="92.9" rx="3.78" ry="1.80" fill="none" stroke="#141414" stroke-width="1.9" transform="rotate(-60 233.4 92.9)"/>
<ellipse cx="292.1" cy="88.3" rx="1.48" ry="2.03" fill="none" stroke="#141414" stroke-width="2.0"/>
<ellipse cx="296.9" cy="87.8" rx="1.48" ry="2.03" fill="none" stroke="#141414" stroke-width="2.0"/>
<ellipse cx="293.2" cy="83.5" rx="0.75" ry="1.00" fill="#141414"/>
<ellipse cx="312.3" cy="87.8" rx="1.18" ry="1.56" fill="none" stroke="#141414" stroke-width="1.5"/>
<ellipse cx="213.1" cy="96.6" rx="1.51" ry="1.68" fill="#333" stroke="#141414" stroke-width="1.6"/>
<ellipse cx="272.2" cy="96.7" rx="2.14" ry="2.42" fill="none" stroke="#141414" stroke-width="2.1"/>
<ellipse cx="272.5" cy="92.6" rx="0.75" ry="1.00" fill="#141414"/>
<ellipse cx="306.9" cy="96.9" rx="1.31" ry="2.19" fill="none" stroke="#141414" stroke-width="2.0"/>
<ellipse cx="328.1" cy="97.1" rx="1.60" ry="2.65" fill="#141414"/>
<path d="M118.96,109.50 C118.96,109.17 120.27,107.86 120.60,107.86 C120.93,107.86 122.24,109.17 122.24,109.50 C122.24,109.83 120.93,111.14 120.60,111.14 C120.27,111.14 118.96,109.83 118.96,109.50Z" fill="none" stroke="#141414" stroke-width="2.0"/>
<ellipse cx="312.5" cy="107.2" rx="1.59" ry="1.86" fill="none" stroke="#141414" stroke-width="2.1"/>
<ellipse cx="233.5" cy="115.4" rx="1.64" ry="1.64" fill="none" stroke="#141414" stroke-width="2.0"/>
<ellipse cx="260.5" cy="118.8" rx="2.20" ry="2.42" fill="none" stroke="#141414" stroke-width="2.1"/>
<ellipse cx="274.3" cy="111.5" rx="2.14" ry="2.42" fill="none" stroke="#141414" stroke-width="2.1"/>
<ellipse cx="270.8" cy="118.6" rx="1.86" ry="1.59" fill="none" stroke="#141414" stroke-width="2.1"/>
<path d="M298.20,114.68 C296.65,117.10 296.51,118.59 296.51,119.70 C296.51,121.57 297.27,122.12 298.20,122.12 C299.13,122.12 299.89,121.57 299.89,119.70 C299.89,118.59 299.75,117.10 298.20,114.68 Z" fill="none" stroke="#141414" stroke-width="1.9" stroke-linejoin="round"/>
<ellipse cx="198.8" cy="133.8" rx="1.86" ry="2.14" fill="none" stroke="#141414" stroke-width="2.1"/>
<ellipse cx="206.4" cy="143.3" rx="1.59" ry="2.75" fill="none" stroke="#141414" stroke-width="2.1"/>
<ellipse cx="214.7" cy="145.4" rx="1.86" ry="2.14" fill="none" stroke="#141414" stroke-width="2.1"/>
<ellipse cx="235.9" cy="131.7" rx="1.92" ry="2.80" fill="none" stroke="#141414" stroke-width="2.0" transform="rotate(-20 235.9 131.7)"/>
<ellipse cx="239.9" cy="134.4" rx="1.64" ry="2.80" fill="none" stroke="#141414" stroke-width="2.0"/>
<ellipse cx="234.8" cy="141.2" rx="1.47" ry="1.74" fill="none" stroke="#141414" stroke-width="1.8"/>
<ellipse cx="248" cy="130.4" rx="1.86" ry="2.42" fill="none" stroke="#141414" stroke-width="2.1"/>
<ellipse cx="253.4" cy="133.8" rx="1.86" ry="2.14" fill="none" stroke="#141414" stroke-width="2.1"/>
<ellipse cx="261.1" cy="131.9" rx="1.64" ry="2.47" fill="none" stroke="#141414" stroke-width="2.0"/>
<ellipse cx="287.6" cy="132" rx="1.31" ry="1.92" fill="none" stroke="#141414" stroke-width="2.0"/>
<ellipse cx="291.3" cy="135.1" rx="1.48" ry="1.75" fill="none" stroke="#141414" stroke-width="2.0"/>
<ellipse cx="295.6" cy="135.1" rx="1.48" ry="1.75" fill="none" stroke="#141414" stroke-width="2.0"/>
<ellipse cx="299.5" cy="130.7" rx="1.21" ry="1.71" fill="none" stroke="#141414" stroke-width="1.2"/>
<ellipse cx="333.2" cy="132" rx="1.31" ry="2.47" fill="none" stroke="#141414" stroke-width="2.0"/>
<ellipse cx="342.2" cy="134.4" rx="2.28" ry="2.72" fill="none" stroke="#141414" stroke-width="1.6"/>
<ellipse cx="87.8" cy="149.8" rx="1.15" ry="1.10" fill="#fff"/>
<path d="M122.04,143.80 C122.04,143.44 123.13,142.00 123.40,142.00 C123.67,142.00 124.76,143.44 124.76,143.80 C124.76,144.16 123.67,145.60 123.40,145.60 C123.13,145.60 122.04,144.16 122.04,143.80Z" fill="none" stroke="#141414" stroke-width="1.9"/>
<ellipse cx="182.1" cy="154.1" rx="1.30" ry="1.30" fill="none" stroke="#141414" stroke-width="1.8"/>
<ellipse cx="204" cy="149.8" rx="1.48" ry="2.03" fill="none" stroke="#141414" stroke-width="2.0"/>
<ellipse cx="204.4" cy="155" rx="1.48" ry="2.03" fill="none" stroke="#141414" stroke-width="2.0"/>
<ellipse cx="235.0" cy="154.0" rx="1.53" ry="2.08" fill="none" stroke="#141414" stroke-width="2.0"/>
<ellipse cx="237.6" cy="159.0" rx="1.53" ry="2.08" fill="none" stroke="#141414" stroke-width="2.0"/>
<ellipse cx="246.7" cy="156.1" rx="0.88" ry="1.21" fill="none" stroke="#444" stroke-width="1.1"/>
<ellipse cx="269" cy="164.8" rx="2.20" ry="2.20" fill="none" stroke="#141414" stroke-width="2.1"/>
<ellipse cx="278" cy="157.4" rx="1.59" ry="2.14" fill="none" stroke="#141414" stroke-width="2.1"/>
<ellipse cx="292.2" cy="167.5" rx="7.30" ry="1.53" fill="none" stroke="#141414" stroke-width="1.9" transform="rotate(-79 292.2 167.5)"/>
<ellipse cx="286.5" cy="171.7" rx="1.59" ry="2.14" fill="none" stroke="#141414" stroke-width="2.1"/>
<ellipse cx="301.1" cy="170.1" rx="1.34" ry="2.39" fill="none" stroke="#141414" stroke-width="1.6"/>
<ellipse cx="311.9" cy="157.7" rx="1.59" ry="2.14" fill="none" stroke="#141414" stroke-width="2.1"/>
<ellipse cx="325.2" cy="161.6" rx="1.24" ry="1.57" fill="none" stroke="#141414" stroke-width="1.6"/>
<ellipse cx="358.7" cy="170" rx="1.03" ry="1.58" fill="none" stroke="#141414" stroke-width="1.8"/>
<ellipse cx="159.1" cy="178.5" rx="1.81" ry="2.30" fill="none" stroke="#141414" stroke-width="2.0"/>
<ellipse cx="170.7" cy="179" rx="1.81" ry="2.30" fill="none" stroke="#141414" stroke-width="2.0"/>
<ellipse cx="175.8" cy="178" rx="1.53" ry="2.30" fill="none" stroke="#141414" stroke-width="2.0"/>
<ellipse cx="192.2" cy="174.6" rx="1.32" ry="1.86" fill="none" stroke="#141414" stroke-width="2.1"/>
<ellipse cx="200.7" cy="179.3" rx="1.32" ry="2.42" fill="none" stroke="#141414" stroke-width="2.1"/>
<ellipse cx="205.1" cy="183.6" rx="1.59" ry="1.86" fill="none" stroke="#141414" stroke-width="2.1"/>
<ellipse cx="210.2" cy="181.2" rx="1.70" ry="2.53" fill="none" stroke="#141414" stroke-width="2.1"/>
<ellipse cx="213.3" cy="183" rx="1.43" ry="2.25" fill="none" stroke="#141414" stroke-width="2.1"/>
<ellipse cx="226.6" cy="171.5" rx="1.59" ry="1.86" fill="none" stroke="#141414" stroke-width="2.1"/>
<ellipse cx="232.4" cy="172.8" rx="1.59" ry="2.14" fill="none" stroke="#141414" stroke-width="2.1"/>
<ellipse cx="229.5" cy="172" rx="0.95" ry="1.50" fill="none" stroke="#141414" stroke-width="1.4"/>
<ellipse cx="224" cy="183.5" rx="1.31" ry="1.92" fill="none" stroke="#141414" stroke-width="2.0"/>
<path d="M223.14,190.10 C223.14,189.65 224.23,187.86 224.50,187.86 C224.77,187.86 225.86,189.65 225.86,190.10 C225.86,190.55 224.77,192.34 224.50,192.34 C224.23,192.34 223.14,190.55 223.14,190.10Z" fill="none" stroke="#141414" stroke-width="1.9"/>
<ellipse cx="254.9" cy="175.7" rx="1.43" ry="2.14" fill="none" stroke="#141414" stroke-width="2.1"/>
<ellipse cx="258.6" cy="175.7" rx="1.43" ry="2.14" fill="none" stroke="#141414" stroke-width="2.1"/>
<ellipse cx="268" cy="181.6" rx="2.62" ry="3.28" fill="none" stroke="#141414" stroke-width="1.8" transform="rotate(35 268 181.6)"/>
<ellipse cx="254.2" cy="190.6" rx="1.37" ry="1.64" fill="none" stroke="#141414" stroke-width="2.0"/>
<ellipse cx="248.3" cy="191.4" rx="1.60" ry="1.60" fill="#444"/>
<ellipse cx="262.2" cy="197.5" rx="4.50" ry="1.75" fill="none" stroke="#141414" stroke-width="2.0" transform="rotate(45 262.2 197.5)"/>
<ellipse cx="295.9" cy="187.4" rx="1.26" ry="2.14" fill="none" stroke="#141414" stroke-width="2.1"/>
<ellipse cx="304.4" cy="194.1" rx="1.26" ry="1.86" fill="none" stroke="#141414" stroke-width="2.1"/>
<ellipse cx="306.5" cy="200.1" rx="1.06" ry="0.79" fill="none" stroke="#141414" stroke-width="1.4"/>
<ellipse cx="312.8" cy="205.2" rx="1.26" ry="1.86" fill="none" stroke="#141414" stroke-width="2.1"/>
<path d="M188.67,193.00 C188.67,192.36 189.57,189.78 189.80,189.78 C190.03,189.78 190.93,192.36 190.93,193.00 C190.93,193.64 190.03,196.22 189.80,196.22 C189.57,196.22 188.67,193.64 188.67,193.00Z" fill="none" stroke="#141414" stroke-width="1.7"/>
<ellipse cx="196.9" cy="198.1" rx="1.26" ry="2.14" fill="none" stroke="#141414" stroke-width="2.1"/>
<ellipse cx="218.7" cy="201" rx="1.31" ry="1.92" fill="none" stroke="#141414" stroke-width="2.0"/>
<path d="M224.76,200.40 C224.76,199.90 226.07,197.88 226.40,197.88 C226.73,197.88 228.04,199.90 228.04,200.40 C228.04,200.90 226.73,202.92 226.40,202.92 C226.07,202.92 224.76,200.90 224.76,200.40Z" fill="none" stroke="#141414" stroke-width="2.0"/>
<ellipse cx="250.2" cy="210.2" rx="1.59" ry="2.14" fill="none" stroke="#141414" stroke-width="2.1"/>
<path d="M205.40,209.33 C203.24,211.72 203.05,213.18 203.05,214.28 C203.05,216.12 204.11,216.67 205.40,216.67 C206.69,216.67 207.75,216.12 207.75,214.28 C207.75,213.18 207.56,211.72 205.40,209.33 Z" fill="none" stroke="#141414" stroke-width="1.9" stroke-linejoin="round" transform="rotate(-22 205.4 213.0)"/>
<ellipse cx="205.1" cy="225.4" rx="1.70" ry="2.25" fill="none" stroke="#141414" stroke-width="2.1"/>
<ellipse cx="210.9" cy="224.9" rx="1.70" ry="2.25" fill="none" stroke="#141414" stroke-width="2.1"/>
<ellipse cx="215.2" cy="227" rx="1.70" ry="2.25" fill="none" stroke="#141414" stroke-width="2.1"/>
<ellipse cx="245.7" cy="220.9" rx="1.31" ry="2.47" fill="none" stroke="#141414" stroke-width="2.0"/>
<ellipse cx="238.2" cy="227.8" rx="1.86" ry="2.42" fill="none" stroke="#141414" stroke-width="2.1"/>
<ellipse cx="272.5" cy="223" rx="1.59" ry="1.86" fill="none" stroke="#141414" stroke-width="2.1"/>
<ellipse cx="263.8" cy="237.8" rx="2.10" ry="2.65" fill="#141414"/>
<ellipse cx="115.5" cy="206.7" rx="1.25" ry="1.25" fill="#666"/>
<path d="M85.26,217.80 C85.26,217.47 86.41,216.14 86.70,216.14 C86.99,216.14 88.14,217.47 88.14,217.80 C88.14,218.13 86.99,219.46 86.70,219.46 C86.41,219.46 85.26,218.13 85.26,217.80Z" fill="none" stroke="#141414" stroke-width="2.4"/>
<ellipse cx="163.3" cy="192.5" rx="1.09" ry="1.97" fill="none" stroke="#141414" stroke-width="1.9"/>
<ellipse cx="327.3" cy="230.8" rx="1.45" ry="2.22" fill="none" stroke="#141414" stroke-width="1.5"/>
<ellipse cx="336.3" cy="244.6" rx="1.20" ry="1.48" fill="none" stroke="#141414" stroke-width="2.0"/>
<ellipse cx="160.9" cy="263.2" rx="1.70" ry="2.10" fill="#141414"/>
<ellipse cx="190.6" cy="259.4" rx="1.00" ry="1.00" fill="none" stroke="#141414" stroke-width="1.3"/>
<ellipse cx="237.5" cy="316.1" rx="1.59" ry="2.75" fill="none" stroke="#141414" stroke-width="2.1"/>
</g>
<g stroke="#555" stroke-width="0.8">
<line x1="102.9" y1="200.8" x2="160" y2="192.9"/>
<line x1="136.9" y1="200.8" x2="183.3" y2="194.8"/>
<line x1="107.3" y1="263.6" x2="261.7" y2="238.7"/>
</g>
<text transform="translate(117.3 191.5) scale(1.06 1)" class="an">N63</text>
<text transform="translate(157.6 210.9) scale(1.06 1)" class="an">M64</text>
<text transform="translate(241.1 255.4) scale(1.06 1)" class="an">W59</text>
<line x1="65.5" y1="3" x2="369.1" y2="3" stroke="#666" stroke-width="1.2"/>
<line x1="369.1" y1="3" x2="369.1" y2="334.8" stroke="#666" stroke-width="1.2"/>
<line x1="65.5" y1="334.8" x2="369.70000000000005" y2="334.8" stroke="#333" stroke-width="1.2"/>
<line x1="65.5" y1="3" x2="65.5" y2="334.8" stroke="#111" stroke-width="1.6"/>
<text x="0" y="0" transform="translate(56.7 41.90) scale(1.21 1)" text-anchor="end" class="tl">105</text>
<text x="0" y="0" transform="translate(56.7 87.74) scale(1.21 1)" text-anchor="end" class="tl">110</text>
<text x="0" y="0" transform="translate(56.7 133.57) scale(1.21 1)" text-anchor="end" class="tl">115</text>
<text x="0" y="0" transform="translate(56.7 179.41) scale(1.21 1)" text-anchor="end" class="tl">120</text>
<text x="0" y="0" transform="translate(56.7 225.24) scale(1.21 1)" text-anchor="end" class="tl">125</text>
<text x="0" y="0" transform="translate(56.7 271.07) scale(1.21 1)" text-anchor="end" class="tl">130</text>
<text x="0" y="0" transform="translate(56.7 316.91) scale(1.21 1)" text-anchor="end" class="tl">135</text>
<text x="0" y="0" transform="translate(56.80 354.1) scale(1.235 1)" text-anchor="start" class="tl">11.0</text>
<text x="0" y="0" transform="translate(115.92 354.1) scale(1.235 1)" text-anchor="start" class="tl">10.0</text>
<text x="0" y="0" transform="translate(175.04 354.1) scale(1.235 1)" text-anchor="start" class="tl">9.0</text>
<text x="0" y="0" transform="translate(234.16 354.1) scale(1.235 1)" text-anchor="start" class="tl">8.0</text>
<text x="0" y="0" transform="translate(293.28 354.1) scale(1.235 1)" text-anchor="start" class="tl">7.0</text>
<text x="0" y="0" transform="translate(352.40 354.1) scale(1.235 1)" text-anchor="start" class="tl">6.0</text>
<g transform="translate(14.9 0) rotate(-90)">
<text class="ti" x="-207.6" y="-7.2" style="font-size:10px">15</text>
<text class="ti" x="-194.4" y="0">N</text>
<text class="ti" x="-178" y="0">(ppm)</text>
</g>
<text class="ti" x="182.6" y="377.5" style="font-size:9.4px">1</text>
<text class="ti" x="188" y="384.4">H</text>
<text class="ti" x="203.2" y="384.4">(ppm)</text>
</svg>
</body></html>
